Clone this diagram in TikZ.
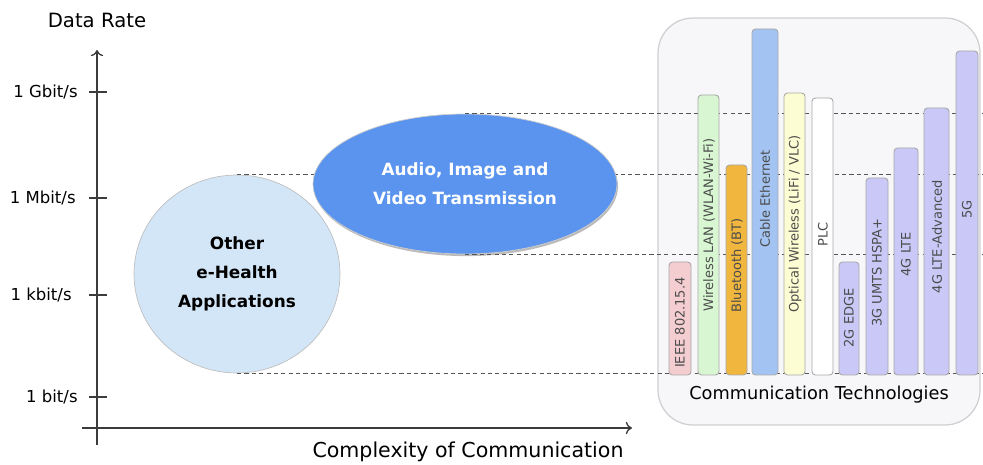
\documentclass[tikz,border=0pt]{standalone}
\usepackage{fontspec}
\setmainfont{DejaVu Sans}
\usepackage{xcolor}
\usetikzlibrary{shapes.geometric,shadows,arrows.meta}

\definecolor{axisgray}{HTML}{3C3C3C}
\definecolor{dashgray}{HTML}{555555}
\definecolor{boxfill}{HTML}{F7F7F9}
\definecolor{boxline}{HTML}{CFCFD2}
\definecolor{barline}{HTML}{A8A8A8}
\definecolor{ieeepink}{HTML}{F4CDD0}
\definecolor{wlangreen}{HTML}{D8F6D2}
\definecolor{btorange}{HTML}{F0B63E}
\definecolor{cableblue}{HTML}{A3C4F3}
\definecolor{owcyellow}{HTML}{FDFDD3}
\definecolor{cellviolet}{HTML}{C9C8F7}
\definecolor{otherblue}{HTML}{D3E6F8}
\definecolor{avblue}{HTML}{5A94EE}

\begin{document}
\begin{tikzpicture}[x=0.02cm,y=-0.02cm,
	axis/.style={color=axisgray, line width=0.75pt},
	dashline/.style={color=dashgray, dashed, dash pattern=on 2.4pt off 1.8pt, line width=0.6pt},
	bar/.style={draw=barline, line width=0.5pt, rounded corners=2pt},
	barlabel/.style={rotate=90, anchor=east, inner sep=0pt, text=black!70, font=\fontsize{7.4}{8}\selectfont},
	ticklabel/.style={anchor=east, inner sep=0pt, font=\fontsize{9.4}{10}\selectfont},
	bubble/.style={ellipse, align=center, font=\bfseries\fontsize{9.6}{16.5}\selectfont}]
	\useasboundingbox (0,0) rectangle (983,465);

	\coordinate (rim) at (983,0);

	\filldraw[fill=boxfill, draw=boxline, line width=0.7pt, rounded corners=0.7cm] (658,18) rectangle (980,425);

	\node[bubble, fill=otherblue, draw=black!25, minimum width=4.12cm, minimum height=3.96cm] (other) at (237,274) {Other\\e-Health\\Applications};

	\draw[dashline] (other.north) -- (other.north -| rim);
	\draw[dashline] (other.south) -- (other.south -| rim);

	\node[bubble, fill=avblue, text=white, draw=white!80!black, minimum width=6.08cm, minimum height=2.8cm,
		drop shadow={shadow xshift=0.6pt, shadow yshift=-1.2pt, fill=black!45, opacity=0.6}] (av) at (465,184) {Audio, Image and\\Video Transmission};

	\draw[dashline] (av.north) -- (av.north -| rim);
	\draw[dashline] (av.south) -- (av.south -| rim);

	\filldraw[bar, fill=ieeepink] (669,262) rectangle (691,375);
	\filldraw[bar, fill=wlangreen] (698,95) rectangle (719,375);
	\filldraw[bar, fill=btorange] (726,165) rectangle (747,375);
	\filldraw[bar, fill=cableblue] (752,29) rectangle (778,375);
	\filldraw[bar, fill=owcyellow] (784,93) rectangle (805,375);
	\filldraw[bar, fill=white] (812,98) rectangle (833,375);
	\filldraw[bar, fill=cellviolet] (839,262) rectangle (859,375);
	\filldraw[bar, fill=cellviolet] (866,178) rectangle (888,375);
	\filldraw[bar, fill=cellviolet] (894,148) rectangle (918,375);
	\filldraw[bar, fill=cellviolet] (924,108) rectangle (949,375);
	\filldraw[bar, fill=cellviolet] (956,51) rectangle (978,375);

	\node[barlabel] (ieee) at (680,277) {IEEE 802.15.4};
	\node[barlabel] (wlan) at (709,138) {Wireless LAN (WLAN-Wi-Fi)};
	\node[barlabel] (bt) at (737,218) {Bluetooth (BT)};
	\node[barlabel] (cable) at (765,150) {Cable Ethernet};
	\node[barlabel] (owc) at (795,135) {Optical Wireless (LiFi / VLC)};
	\node[barlabel] (plc) at (823,222) {PLC};
	\node[barlabel] (edge) at (849,288) {2G EDGE};
	\node[barlabel] (umts) at (877,218) {3G UMTS HSPA+};
	\node[barlabel] (lte) at (906,232) {4G LTE};
	\node[barlabel] (ltea) at (937,180) {4G LTE-Advanced};
	\node[barlabel] (fiveg) at (967,200) {5G};

	\node[font=\fontsize{10.1}{11}\selectfont] (tech) at (819,395) {Communication Technologies};

	\coordinate (ybot) at (97,445);
	\coordinate (ytop) at (97,50);
	\coordinate (xleft) at (82,428);
	\coordinate (xright) at (632,428);
	\draw[axis,-{To[length=3.5pt,width=7pt]}] (ybot) -- (ytop);
	\draw[axis,-{To[length=3.5pt,width=7pt]}] (xleft) -- (xright);

	\draw[axis] (89,92) -- (107,92);
	\draw[axis] (89,198) -- (107,198);
	\draw[axis] (89,295) -- (107,295);
	\draw[axis] (89,397) -- (107,397);

	\node[ticklabel] (gbit) at (78,92) {1 Gbit/s};
	\node[ticklabel] (mbit) at (76,198) {1 Mbit/s};
	\node[ticklabel] (kbit) at (72,295) {1 kbit/s};
	\node[ticklabel] (bit) at (78,397) {1 bit/s};

	\node[font=\fontsize{11.2}{12}\selectfont] (rate) at (97,20) {Data Rate};
	\node[font=\fontsize{11.7}{13}\selectfont] (complex) at (468,452) {Complexity of Communication};
\end{tikzpicture}
\end{document}
